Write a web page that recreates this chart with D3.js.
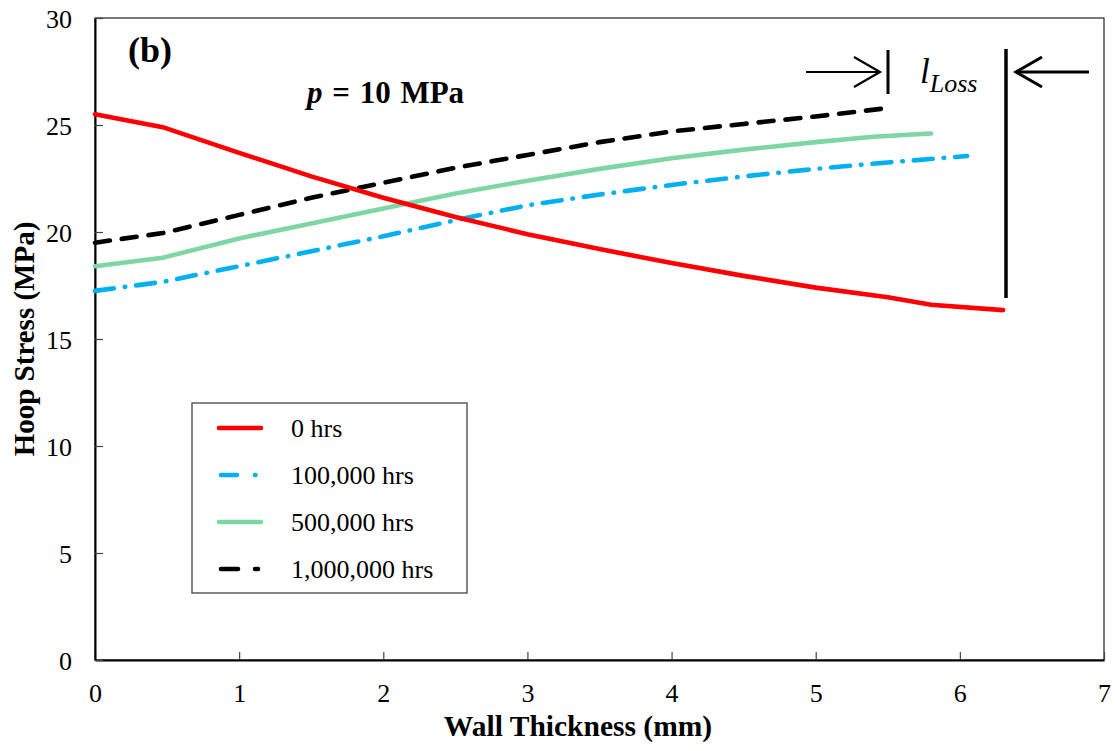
<!DOCTYPE html>
<html>
<head>
<meta charset="utf-8">
<script src="https://cdn.jsdelivr.net/npm/d3@7"></script>
<style>
  body { margin: 0; background: #fff; }
  svg text { font-family: "Liberation Serif", "Times New Roman", "DejaVu Serif", serif !important; }
</style>
</head>
<body>
<div id="chart"></div>
<script>
// values: wall thickness (mm) vs hoop stress (MPa)
var x0hrs = [0, 0.47, 1, 1.5, 2, 2.5, 3, 3.5, 4, 4.5, 5, 5.5, 5.8, 6.3];
var y0hrs = [25.5, 24.9, 23.7, 22.6, 21.6, 20.7, 19.9, 19.2, 18.55, 17.95, 17.4, 16.95, 16.6, 16.35];

var x100k = [0, 0.47, 1, 1.5, 2, 2.5, 3, 3.5, 4, 4.5, 5, 5.5, 6.05];
var y100k = [17.25, 17.67, 18.4, 19.1, 19.8, 20.55, 21.25, 21.75, 22.2, 22.6, 22.95, 23.25, 23.55];

var x500k = [0, 0.47, 1, 1.5, 2, 2.5, 3, 3.5, 4, 4.5, 5, 5.4, 5.8];
var y500k = [18.4, 18.8, 19.7, 20.4, 21.1, 21.8, 22.4, 22.95, 23.45, 23.85, 24.2, 24.45, 24.6];

var x1m = [0, 0.47, 1, 1.5, 2, 2.5, 3, 3.5, 4, 4.5, 5, 5.51];
var y1m = [19.5, 19.95, 20.8, 21.6, 22.3, 23.0, 23.6, 24.2, 24.7, 25.05, 25.4, 25.8];

var seriesNames = ["0 hrs", "100,000 hrs", "500,000 hrs", "1,000,000 hrs"];
var xTicks = [0, 1, 2, 3, 4, 5, 6, 7];
var yTicks = [0, 5, 10, 15, 20, 25, 30];

var W = 1117, H = 751;
var margin = {top: 18, right: 13, bottom: 91, left: 95};
var width = W - margin.left - margin.right,
    height = H - margin.top - margin.bottom;

var svg = d3.select("#chart").append("svg")
    .attr("width", W).attr("height", H)
  .append("g")
    .attr("transform", "translate(" + margin.left + "," + margin.top + ")");

var x = d3.scaleLinear().domain([0, 7]).range([0, width]);
var y = d3.scaleLinear().domain([0, 30]).range([height, 0]);

// frame
svg.append("rect")
    .attr("width", width).attr("height", height)
    .attr("fill", "none").attr("stroke", "#222").attr("stroke-width", 1.2);

// axes, ticks pointing inward
var xAxis = svg.append("g")
    .attr("transform", "translate(0," + height + ")")
    .call(d3.axisBottom(x).tickValues(xTicks).tickFormat(d3.format("d"))
      .tickSizeInner(-8).tickSizeOuter(0));
var yAxis = svg.append("g")
    .call(d3.axisLeft(y).tickValues(yTicks).tickFormat(d3.format("d"))
      .tickSizeInner(-8).tickSizeOuter(0));
[xAxis, yAxis].forEach(function(a) {
  a.attr("font-family", null).attr("font-size", null);
  a.select(".domain").attr("stroke", "#000").attr("stroke-width", 2);
  a.selectAll(".tick line").attr("stroke", "#444").attr("stroke-width", 1.2);
  a.selectAll(".tick text").style("font-size", "26px").attr("fill", "#000");
});
xAxis.selectAll(".tick text").attr("y", 42).attr("dy", 0);
yAxis.selectAll(".tick text").attr("x", -23).attr("dy", "0.35em");

// axis titles
svg.append("text")
    .attr("x", 483).attr("y", height + 76)
    .attr("text-anchor", "middle").style("font-size", "29.5px").attr("font-weight", "bold")
    .text("Wall Thickness (mm)");
svg.append("text")
    .attr("transform", "translate(" + (-61) + "," + (height / 2) + ") rotate(-90)")
    .attr("text-anchor", "middle").style("font-size", "29px").attr("font-weight", "bold")
    .text("Hoop Stress (MPa)");

// series
var series = [
  {name: seriesNames[0], xs: x0hrs, ys: y0hrs, color: "#ff0000", dash: null, key: null},
  {name: seriesNames[1], xs: x100k, ys: y100k, color: "#00b0f0", dash: "19,11,0.5,11", key: "16,18,0.5,50"},
  {name: seriesNames[2], xs: x500k, ys: y500k, color: "#7fd6a5", dash: null, key: null},
  {name: seriesNames[3], xs: x1m, ys: y1m, color: "#000000", dash: "15,12", key: "17,17,3,50"}
];

var line = d3.line()
    .x(function(d) { return x(d[0]); })
    .y(function(d) { return y(d[1]); });

series.slice().reverse().forEach(function(s) {
  var pts = s.xs.map(function(v, i) { return [v, s.ys[i]]; });
  svg.append("path")
      .datum(pts)
      .attr("fill", "none")
      .attr("stroke", s.color)
      .attr("stroke-width", 4.6)
      .attr("stroke-linecap", "round")
      .attr("stroke-dasharray", s.dash)
      .attr("d", line);
});

// labels inside plot
svg.append("text")
    .attr("x", 33).attr("y", 44)
    .style("font-size", "36px").attr("font-weight", "bold")
    .text("(b)");
var pLabel = svg.append("text")
    .attr("x", 212).attr("y", 85)
    .style("font-size", "31px").attr("font-weight", "bold")
    .attr("word-spacing", "2px");
pLabel.append("tspan").attr("font-style", "italic").text("p");
pLabel.append("tspan").text(" = 10 MPa");

// l_Loss annotation
var ann = svg.append("g").attr("stroke", "#000").attr("fill", "none")
    .attr("transform", "translate(" + (-margin.left) + "," + (-margin.top) + ")");
ann.append("line").attr("x1", 806).attr("x2", 879).attr("y1", 72).attr("y2", 72).attr("stroke-width", 2.2);
ann.append("path").attr("d", "M854,57 L880,72 L854,87").attr("stroke-width", 2.2);
ann.append("line").attr("x1", 888).attr("x2", 888).attr("y1", 50).attr("y2", 94).attr("stroke-width", 3);
ann.append("line").attr("x1", 1006).attr("x2", 1006).attr("y1", 49).attr("y2", 298).attr("stroke-width", 3.5);
ann.append("line").attr("x1", 1016).attr("x2", 1089).attr("y1", 72).attr("y2", 72).attr("stroke-width", 3);
ann.append("path").attr("d", "M1042,57 L1016,72 L1042,87").attr("stroke-width", 3);
var lLoss = svg.append("text")
    .attr("x", 920 - margin.left).attr("y", 83 - margin.top)
    .attr("font-style", "italic").style("font-size", "35px");
lLoss.append("tspan").text("l");
lLoss.append("tspan").style("font-size", "26px").attr("dy", 9).text("Loss");

// legend
var lg = svg.append("g").attr("transform", "translate(" + (192 - margin.left) + "," + (403 - margin.top) + ")");
lg.append("rect").attr("width", 275).attr("height", 190)
    .attr("fill", "#fff").attr("stroke", "#444").attr("stroke-width", 1.3);
series.forEach(function(s, i) {
  var yy = 25 + i * 47;
  lg.append("line")
      .attr("x1", s.key ? 29 : 27).attr("x2", 69).attr("y1", yy).attr("y2", yy)
      .attr("stroke", s.color).attr("stroke-width", 4.6).attr("stroke-linecap", "round")
      .attr("stroke-dasharray", s.key);
  lg.append("text")
      .attr("x", 99).attr("y", yy).attr("dy", "0.35em")
      .style("font-size", "26px")
      .text(s.name);
});
</script>
</body>
</html>
